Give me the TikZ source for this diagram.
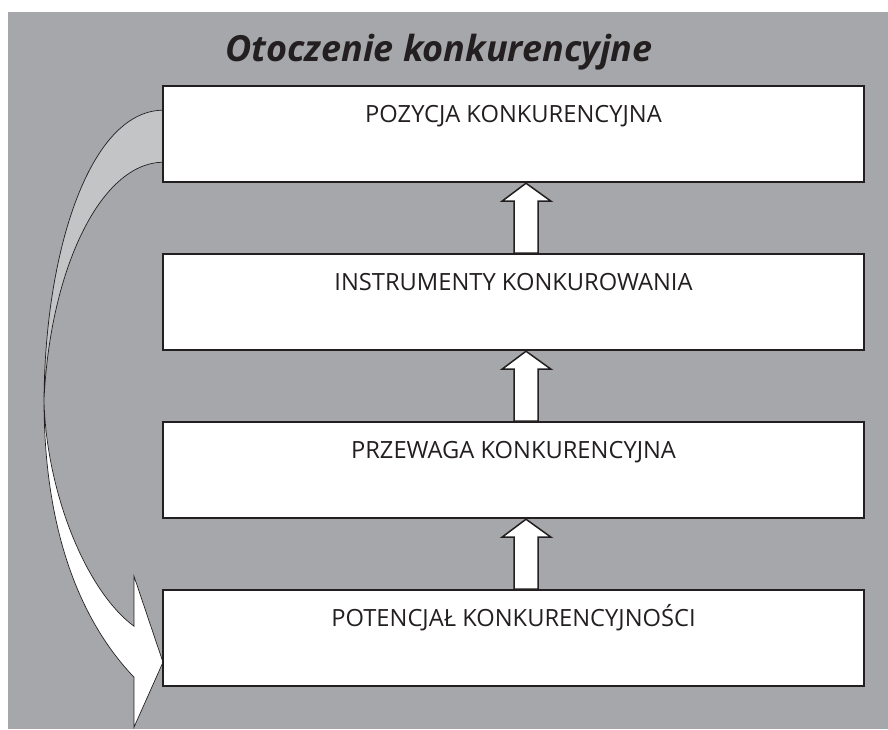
\documentclass[tikz,border=0pt]{standalone}
\usepackage{fontspec}
\setmainfont{Open Sans}
\usetikzlibrary{calc,matrix,backgrounds}

\definecolor{bggray}{HTML}{A6A7AA}
\definecolor{bandgray}{HTML}{C3C4C6}
\definecolor{inkline}{HTML}{231F20}

\tikzset{
  box/.style={draw=inkline, line width=2pt, fill=white, minimum width=701pt, minimum height=96pt,
    text height=20pt, text depth=44pt, text=inkline, font=\fontsize{23.7}{28}\selectfont},
  blockarrow/.style={draw=inkline, line width=1.5pt, fill=white, line join=miter},
  band/.style={draw=inkline, line width=0.7pt},
  heading/.style={text=inkline, font=\fontsize{36}{42}\selectfont\bfseries\itshape},
}

% white block arrow from the top of #1 up to the bottom of #2
\newcommand{\upblock}[2]{%
  \draw[blockarrow] ($(#1.north)+(0.5,0)$) -- ($(#2.south)+(0.5,18)$) -- ($(#2.south)+(-11.5,18)$)
    -- ($(#2.south)+(12.5,0)$) -- ($(#2.south)+(37.5,18)$) -- ($(#2.south)+(24.5,18)$)
    -- ($(#1.north)+(24.5,0)$) -- cycle;}

\begin{document}
\begin{tikzpicture}[x=1pt, y=-1pt]
  \useasboundingbox (0,0) rectangle (888,729);

  \node (otoczenie) [heading, anchor=base] at (439,61) {Otoczenie konkurencyjne};

  \matrix (m) [matrix of nodes, row sep=70pt, inner sep=0pt, anchor=north, nodes={box}] at (513.5,85) {
    POZYCJA KONKURENCYJNA \\
    INSTRUMENTY KONKUROWANIA \\
    PRZEWAGA KONKURENCYJNA \\
    POTENCJAŁ KONKURENCYJNOŚCI \\
  };

  \upblock{m-2-1}{m-1-1}
  \upblock{m-3-1}{m-2-1}
  \upblock{m-4-1}{m-3-1}

  \begin{scope}[on background layer]
    \fill[bggray] (8,12) rectangle (888,729);
    % twisted feedback band, back side on top
    \filldraw[band, fill=bandgray] ($(m-1-1.north west)+(0,25)$) .. controls (90,112) and (45,250) .. (44,400)
      .. controls (50,270) and (100,164) .. ($(m-1-1.north west)+(0,77)$);
    \filldraw[band, fill=white] (44,400) .. controls (44,510) and (70,610) .. ($(m-4-1.north west)+(-28,88)$)
      -- ($(m-4-1.north west)+(-28,138)$) -- ($(m-4-1.north west)+(1,73)$) -- ($(m-4-1.north west)+(-28,-13)$)
      -- ($(m-4-1.north west)+(-28,37)$) .. controls (85,590) and (46,490) .. (44,400) -- cycle;
  \end{scope}
\end{tikzpicture}
\end{document}
